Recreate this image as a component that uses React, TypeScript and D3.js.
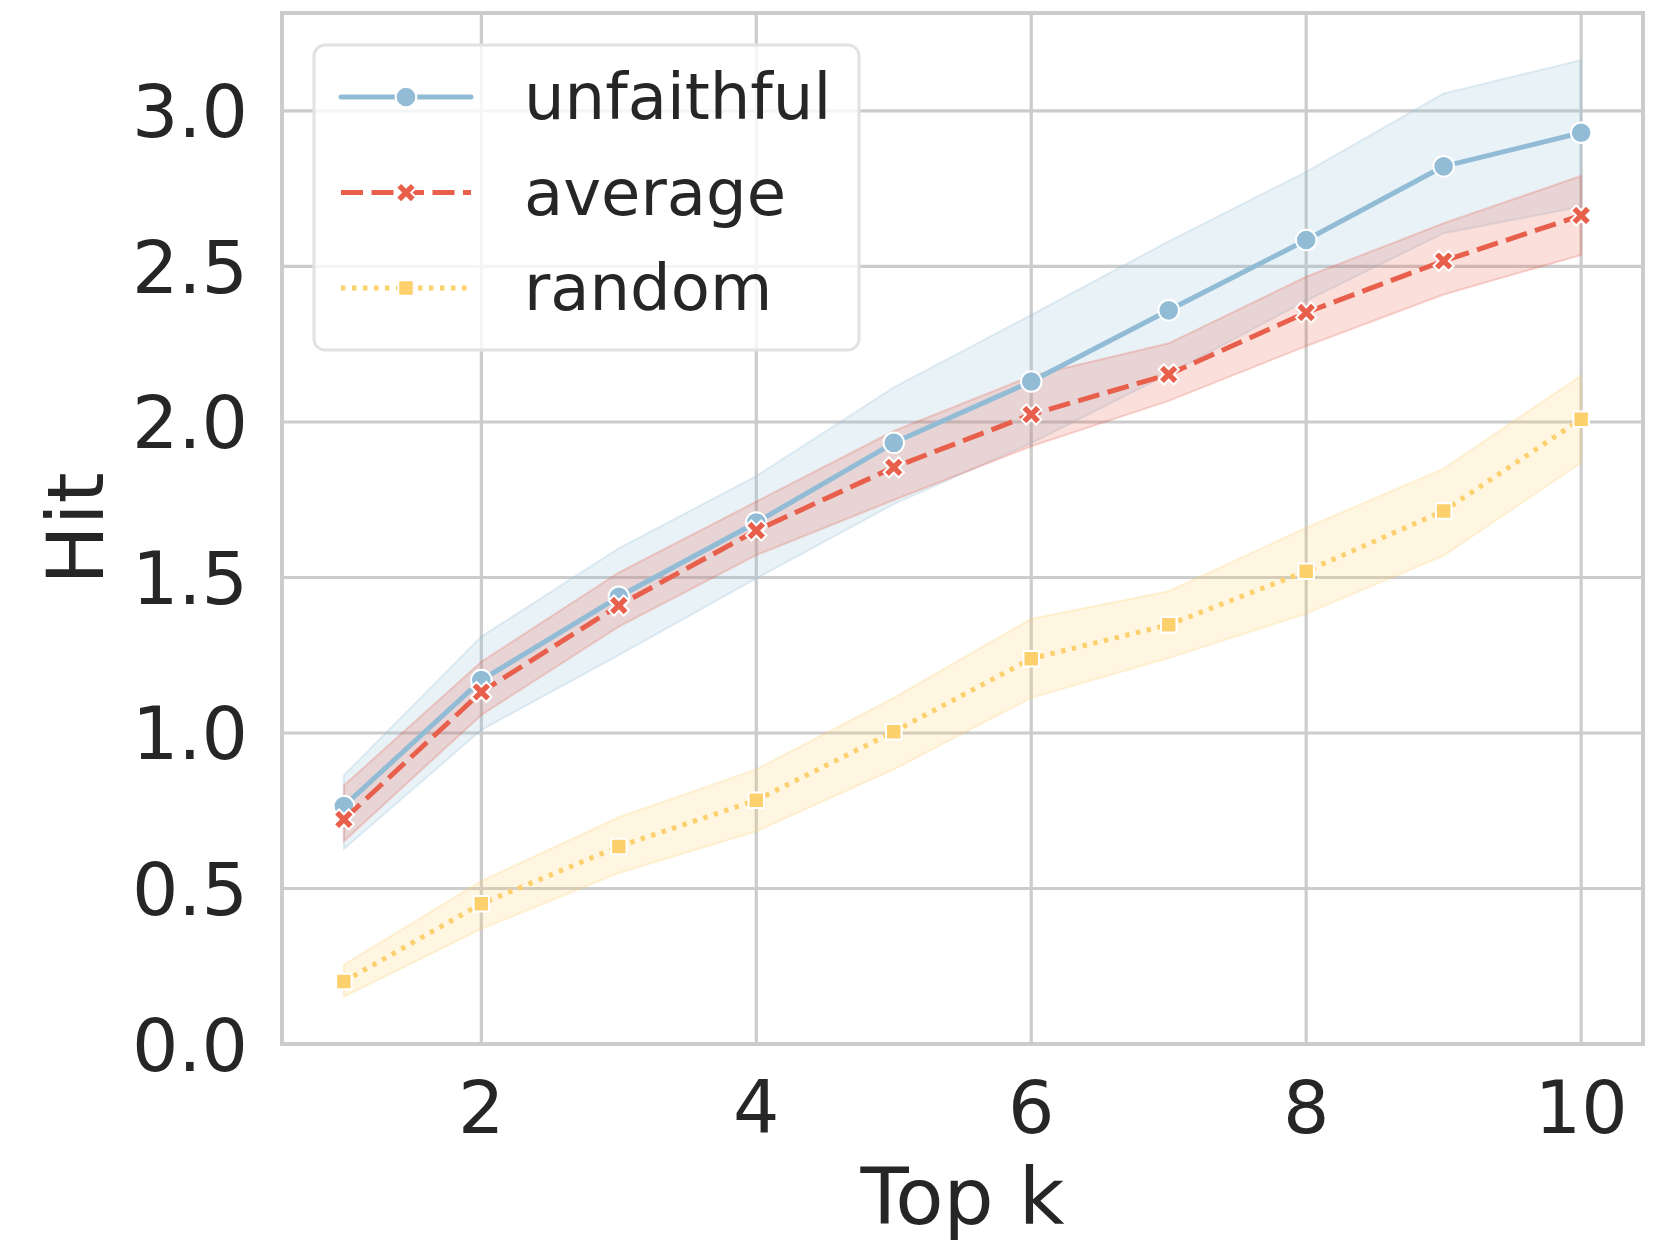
import React from "react";
import * as d3 from "d3";

const topK = [1, 2, 3, 4, 5, 6, 7, 8, 9, 10];

const unfaithful = [0.765, 1.17, 1.438, 1.677, 1.933, 2.13, 2.359, 2.585, 2.822, 2.93];
const unfaithfulLo = [0.627, 1.01, 1.25, 1.497, 1.736, 1.932, 2.155, 2.39, 2.607, 2.692];
const unfaithfulHi = [0.864, 1.31, 1.594, 1.826, 2.111, 2.344, 2.581, 2.804, 3.056, 3.164];

const average = [0.722, 1.132, 1.41, 1.651, 1.854, 2.024, 2.153, 2.352, 2.518, 2.664];
const averageLo = [0.652, 1.058, 1.342, 1.572, 1.749, 1.922, 2.068, 2.244, 2.41, 2.537];
const averageHi = [0.831, 1.229, 1.516, 1.744, 1.971, 2.148, 2.253, 2.467, 2.639, 2.791];

const random = [0.201, 0.451, 0.635, 0.784, 1.004, 1.239, 1.348, 1.52, 1.714, 2.009];
const randomLo = [0.152, 0.37, 0.55, 0.684, 0.883, 1.113, 1.241, 1.384, 1.57, 1.869];
const randomHi = [0.255, 0.524, 0.729, 0.883, 1.113, 1.367, 1.456, 1.66, 1.85, 2.149];

const seriesNames = ["unfaithful", "average", "random"];
const xTicks = [2, 4, 6, 8, 10];
const yTicks = [0, 0.5, 1.0, 1.5, 2.0, 2.5, 3.0];

const W = 1660;
const H = 1245;
const L = 282, R = 1643, T = 13, B = 1044;
const FONT = "DejaVu Sans, sans-serif";
const TXT = "#262626";
const GRID = "#cccccc";

const colors = ["#92bcd6", "#e8604c", "#fdd06e"];
const dashes = [null, "22 8.5", "4.4 6.6"];

// filled "X" marker outline (rotated plus)
function xMarkerPath() {
  const a = 10.6, w = 3.7;
  const pts: [number, number][] = [
    [-w, -a], [w, -a], [w, -w], [a, -w], [a, w], [w, w],
    [w, a], [-w, a], [-w, w], [-a, w], [-a, -w], [-w, -w],
  ];
  return d3.line()(pts) + "Z";
}

export default function App() {
  const x = d3.scaleLinear().domain([0.55, 10.45]).range([L, R]);
  const y = d3.scaleLinear().domain([0, 3.315]).range([B, T]);

  const series = [
    { name: seriesNames[0], mean: unfaithful, lo: unfaithfulLo, hi: unfaithfulHi, marker: "circle" },
    { name: seriesNames[1], mean: average, lo: averageLo, hi: averageHi, marker: "x" },
    { name: seriesNames[2], mean: random, lo: randomLo, hi: randomHi, marker: "square" },
  ];

  const line = d3.line<number>().x((_, i) => x(topK[i])).y((d) => y(d));
  const area = (lo: number[], hi: number[]) =>
    d3
      .area<number>()
      .x((_, i) => x(topK[i]))
      .y0((_, i) => y(lo[i]))
      .y1((_, i) => y(hi[i]))(topK);

  const xSym = xMarkerPath();
  const sqSym = d3.symbol(d3.symbolSquare, 240)();
  const EW = 2;

  const marker = (kind: string, cx: number, cy: number, color: string, key: string) => {
    if (kind === "circle")
      return <circle key={key} cx={cx} cy={cy} r={10.3} fill={color} stroke="#ffffff" strokeWidth={EW} />;
    if (kind === "x")
      return (
        <path key={key} d={xSym} transform={`translate(${cx},${cy}) rotate(45)`} fill={color} stroke="#ffffff" strokeWidth={EW} strokeLinejoin="miter" />
      );
    return <path key={key} d={sqSym || ""} transform={`translate(${cx},${cy})`} fill={color} stroke="#ffffff" strokeWidth={EW} />;
  };

  const legendX = 314, legendY = 45, legendW = 545, legendH = 305;
  const legendRows = [97, 192.6, 288];

  return (
    <svg width={W} height={H} style={{ position: "absolute", left: 0, top: 0, background: "#ffffff" }} fontFamily={FONT}>
      <rect x={0} y={0} width={W} height={H} fill="#ffffff" />
      {/* grid */}
      {yTicks.map((t) => (
        <line key={"gy" + t} x1={L} x2={R} y1={y(t)} y2={y(t)} stroke={GRID} strokeWidth={3.2} />
      ))}
      {xTicks.map((t) => (
        <line key={"gx" + t} x1={x(t)} x2={x(t)} y1={T} y2={B} stroke={GRID} strokeWidth={3.2} />
      ))}

      {/* bands (below all lines) */}
      {series.map((s, si) => (
        <path key={"band" + s.name} d={area(s.lo, s.hi) || ""} fill={colors[si]} fillOpacity={0.2} stroke={colors[si]} strokeOpacity={0.25} strokeWidth={2} />
      ))}

      {/* lines + markers */}
      {series.map((s, si) => (
        <g key={s.name}>
          <path
            d={line(s.mean) || ""}
            fill="none"
            stroke={colors[si]}
            strokeWidth={5}
            strokeDasharray={dashes[si] || undefined}
            strokeLinecap={si === 0 ? "round" : "butt"}
            strokeLinejoin="round"
          />
          {s.mean.map((v, i) => marker(s.marker, x(topK[i]), y(v), colors[si], s.name + i))}
        </g>
      ))}

      {/* spines */}
      <rect x={L} y={T} width={R - L} height={B - T} fill="none" stroke={GRID} strokeWidth={4} />

      {/* y ticks */}
      {yTicks.map((t) => (
        <text key={"ty" + t} x={248} y={y(t) + 26.5} textAnchor="end" fontSize={73} fill={TXT}>
          {t.toFixed(1)}
        </text>
      ))}
      {/* x ticks */}
      {xTicks.map((t) => (
        <text key={"tx" + t} x={x(t)} y={1133} textAnchor="middle" fontSize={73} fill={TXT}>
          {t}
        </text>
      ))}

      {/* axis labels */}
      <text x={(L + R) / 2} y={1224} textAnchor="middle" fontSize={79} fill={TXT}>
        Top k
      </text>
      <text transform={`translate(103,${(T + B) / 2}) rotate(-90)`} textAnchor="middle" fontSize={79} fill={TXT}>
        Hit
      </text>

      {/* legend */}
      <rect x={legendX} y={legendY} width={legendW} height={legendH} rx={11} ry={11} fill="#ffffff" fillOpacity={0.8} stroke="#e2e2e2" strokeWidth={3} />
      {series.map((s, si) => (
        <g key={"lg" + s.name}>
          <line
            x1={341}
            x2={471}
            y1={legendRows[si]}
            y2={legendRows[si]}
            stroke={colors[si]}
            strokeWidth={5}
            strokeDasharray={dashes[si] || undefined}
            strokeLinecap={si === 0 ? "round" : "butt"}
          />
          {marker(s.marker, 406, legendRows[si], colors[si], "lm" + si)}
          <text x={524} y={legendRows[si] + 22} fontSize={64} fill={TXT}>
            {s.name}
          </text>
        </g>
      ))}
    </svg>
  );
}
